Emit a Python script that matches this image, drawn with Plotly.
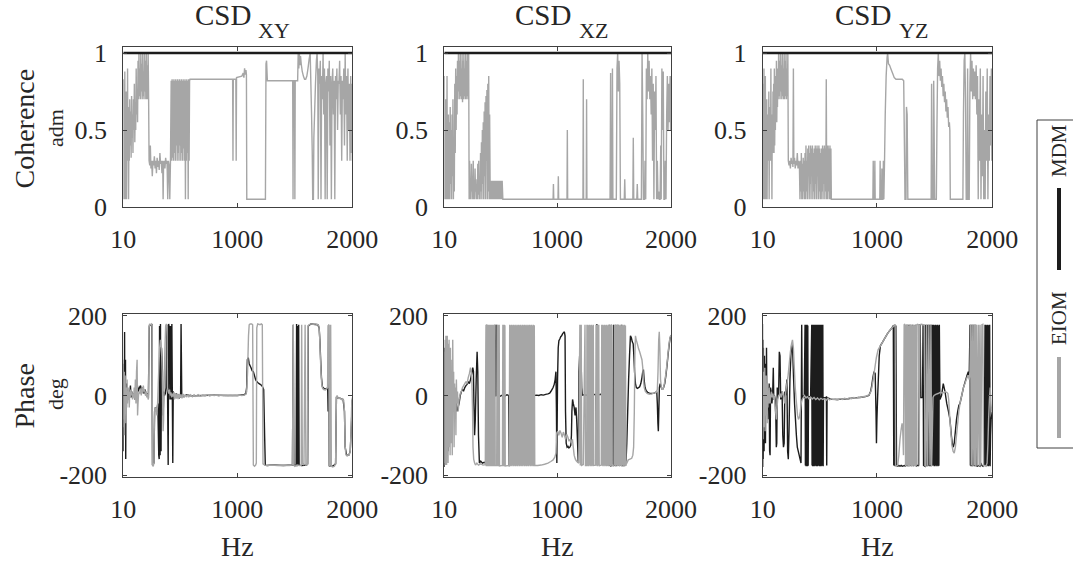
import plotly.graph_objects as go

W, H = 1073, 566
FONT = "Liberation Serif"
TXT = "#262626"
AXC = "#404040"
GRAY = "#a6a6a6"
BLACK = "#1c1c1c"

# ---------------- data ----------------
pair_names = ["XY", "XZ", "YZ"]
x_ticks = [10, 1000, 2000]
coh_ticks = [0, 0.5, 1]
coh_tick_text = ["0", "0.5", "1"]
ph_ticks = [-200, 0, 200]
ph_tick_text = ["-200", "0", "200"]
legend_labels = ["MDM", "EIOM"]

# MDM coherence (constant ~1 over the band)
mdm_coh_hz = [10, 2000]
mdm_coh = [1.0, 1.0]

# EIOM coherence, [Hz, coherence]
xy_coh_eiom = [
    [10,0.83],[12,0.3],[14,0.05],[17,0.7],[20,0.4],[23,0.88],[26,0.05],[29,0.6],[32,0.3],[35,0.75],[38,0.05],
    [41,0.55],[44,0.35],[47,0.9],[50,0.3],[53,0.65],[56,0.05],[59,0.5],[62,0.3],[66,0.7],[70,0.4],[74,0.62],
    [78,0.32],[82,0.72],[86,0.45],[90,0.6],[94,0.35],[98,0.7],[102,0.5],[106,0.8],[110,0.42],[114,0.68],
    [118,0.5],[122,0.9],[126,0.6],[130,0.75],[134,0.55],[138,0.95],[142,0.7],[146,1.0],[150,0.72],[154,0.9],
    [158,0.7],[162,1.0],[166,0.75],[170,0.93],[174,0.7],[178,1.0],[182,0.72],[186,0.88],[190,0.7],[194,1.0],
    [198,0.75],[202,0.95],[206,0.7],[210,1.0],[214,0.7],[218,0.92],[222,0.7],[226,1.0],[230,0.7],
    [234,0.3],[240,0.27],[245,0.4],[250,0.25],[256,0.3],[262,0.2],[268,0.3],[274,0.27],[280,0.33],[286,0.25],
    [292,0.3],[298,0.22],[304,0.32],[310,0.26],[316,0.3],[322,0.24],[328,0.35],[334,0.28],[340,0.3],[346,0.22],
    [352,0.3],[356,0.05],[360,0.28],[366,0.3],[372,0.25],[378,0.32],[384,0.28],[390,0.3],[396,0.05],[402,0.3],
    [408,0.27],[414,0.05],[420,0.3],
    [426,0.82],[430,0.3],[434,0.83],[438,0.32],[442,0.82],[446,0.3],[450,0.83],[454,0.35],[458,0.82],[462,0.3],
    [466,0.83],[470,0.4],[474,0.82],[478,0.3],[482,0.83],[486,0.35],[490,0.82],[494,0.3],[498,0.83],[502,0.4],
    [506,0.82],[510,0.3],[514,0.83],[518,0.35],[522,0.82],[526,0.3],[530,0.83],[534,0.38],[538,0.82],[542,0.3],
    [546,0.83],[550,0.05],[554,0.82],[558,0.3],[562,0.83],[566,0.35],[570,0.82],[574,0.05],[578,0.83],[582,0.3],
    [586,0.82],[590,0.83],[600,0.83],
    [960,0.83],[963,0.3],[966,0.83],[988,0.83],[991,0.3],[994,0.84],[1040,0.85],[1052,0.87],[1058,0.84],
    [1064,0.9],[1070,0.86],[1076,0.89],[1080,0.86],[1083,0.05],[1245,0.05],[1250,0.93],[1255,0.95],[1262,0.82],
    [1482,0.82],[1485,0.05],[1488,0.82],[1498,0.82],[1501,0.05],[1504,0.82],[1525,0.82],[1530,1.0],[1535,0.9],
    [1540,1.0],[1545,0.92],[1550,0.98],[1556,0.93],[1565,0.88],[1575,0.85],[1585,0.83],[1595,0.83],[1605,0.85],
    [1615,0.9],[1625,0.96],[1634,1.0],[1640,0.8],[1646,0.6],[1652,0.35],[1656,0.05],[1662,0.05],[1666,0.45],
    [1672,0.6],[1680,0.8],[1688,0.95],[1694,1.0],[1700,0.85],[1704,0.05],[1710,0.9],[1716,0.8],[1722,0.95],
    [1728,0.05],[1734,0.85],[1740,0.7],[1746,1.0],[1752,0.6],[1758,0.9],[1764,0.05],[1770,0.8],[1776,0.85],
    [1782,0.05],[1788,0.9],[1794,0.75],[1800,0.95],[1806,0.4],[1812,0.85],[1818,0.05],[1824,0.8],[1830,0.9],
    [1836,0.6],[1842,0.82],[1848,0.05],[1854,0.85],[1860,0.7],[1866,0.9],[1872,0.5],[1878,0.82],[1884,0.8],
    [1890,0.95],[1896,0.6],[1902,0.85],[1908,0.3],[1914,0.82],[1920,0.7],[1926,0.9],[1932,0.4],[1938,1.0],
    [1944,0.6],[1950,0.85],[1956,0.3],[1962,0.9],[1968,0.5],[1974,0.8],[1980,0.3],[1986,0.85],[1992,0.35],
    [1996,0.8],[2000,0.3],
]

xz_coh_eiom = [
    [10,0.85],[13,0.05],[16,0.5],[19,0.1],[22,0.7],[25,0.05],[28,0.55],[31,0.2],[34,0.85],[37,0.05],[40,0.4],
    [43,0.1],[46,0.6],[49,0.05],[52,0.3],[55,0.55],[58,0.05],[62,0.65],[66,0.15],[70,0.5],[74,0.05],[78,0.6],
    [82,0.2],[86,0.7],[90,0.05],[94,0.45],[98,0.1],[102,0.8],[106,0.35],[110,0.9],[114,0.5],[118,0.85],
    [122,0.6],[126,0.95],
    [130,0.7],[134,1.0],[138,0.75],[142,0.95],[146,0.7],[150,1.0],[154,0.72],[158,0.9],[162,0.7],[166,1.0],
    [170,0.68],[174,0.95],[178,0.7],[182,1.0],[186,0.72],[190,0.9],[194,0.7],[198,1.0],[202,0.7],[206,0.95],
    [210,0.72],[214,1.0],[218,0.7],[224,1.0],[228,0.05],
    [232,0.3],[236,0.05],[240,0.15],[244,0.05],[248,0.28],[252,0.1],[256,0.2],[260,0.05],[264,0.3],[268,0.05],
    [272,0.15],[276,0.05],[280,0.25],[284,0.1],[288,0.18],[292,0.05],[296,0.15],[300,0.05],[304,0.28],[308,0.08],
    [312,0.3],[316,0.05],[320,0.2],[324,0.05],[328,0.35],[332,0.1],[336,0.42],[340,0.05],[344,0.5],[348,0.15],
    [352,0.55],[356,0.05],[360,0.62],[364,0.2],[368,0.68],[372,0.05],[376,0.72],[380,0.3],[384,0.76],[388,0.05],
    [392,0.8],[396,0.1],[400,0.85],[404,0.05],[408,0.6],[412,0.17],
    [416,0.05],[422,0.17],[428,0.05],[434,0.17],[440,0.05],[446,0.17],[452,0.05],[458,0.17],[464,0.05],[470,0.17],
    [476,0.05],[482,0.17],[488,0.05],[494,0.17],[500,0.05],[506,0.17],[512,0.05],[518,0.17],[524,0.05],
    [965,0.05],[968,0.15],[971,0.05],[1008,0.05],[1011,0.2],[1014,0.05],[1087,0.05],[1090,0.5],[1093,0.05],
    [1227,0.05],[1230,0.83],[1233,0.05],[1256,0.05],[1259,0.7],[1262,0.05],
    [1465,0.05],[1470,0.87],[1474,0.05],[1482,0.05],[1486,0.9],[1490,0.05],[1520,0.05],[1526,0.9],[1532,1.0],
    [1538,0.75],[1544,0.95],[1550,0.8],[1556,0.05],[1590,0.05],[1594,0.18],[1598,0.05],
    [1665,0.05],[1669,0.45],[1673,0.05],[1700,0.05],[1704,0.15],[1708,0.05],
    [1740,0.05],[1746,1.0],[1752,0.6],[1758,0.05],[1768,0.05],[1772,0.3],[1778,0.05],[1784,0.9],[1790,0.7],
    [1796,1.0],[1802,0.75],[1808,0.95],[1814,0.7],[1820,0.85],[1826,0.6],[1832,0.9],[1838,0.3],[1844,0.8],
    [1850,0.05],[1856,0.75],[1862,0.5],[1868,0.85],[1874,0.05],[1880,0.3],[1886,0.05],[1892,0.1],[1898,0.05],
    [1904,0.05],[1910,0.4],[1914,0.05],[1920,0.9],[1926,0.5],[1932,0.88],[1938,0.05],[1944,0.05],[1950,0.3],
    [1956,0.05],[1962,0.6],[1968,0.85],[1974,0.5],[1980,0.8],[1986,0.55],[1992,0.85],[1996,0.5],[2000,0.85],
]

yz_coh_eiom = [
    [10,0.8],[12,0.05],[15,0.75],[18,0.3],[21,0.9],[24,0.05],[27,0.6],[30,0.35],[33,0.85],[36,0.05],[39,0.55],
    [42,0.3],[45,0.7],[48,0.05],[51,0.5],[54,0.35],[57,0.6],[60,0.3],[63,0.75],[66,0.05],[69,0.5],[72,0.3],
    [75,0.65],[78,0.35],[81,0.9],[84,0.3],[87,0.55],[90,0.05],[93,0.6],[96,0.35],[99,0.75],[102,0.4],[105,0.8],
    [108,0.35],[111,0.9],[114,0.4],[117,0.75],[120,0.5],[123,0.85],[126,0.6],[129,0.95],[132,0.55],[135,0.8],
    [138,0.65],[141,0.9],[144,0.7],
    [148,1.0],[152,0.72],[156,0.95],[160,0.7],[164,1.0],[168,0.75],[172,0.92],[176,0.7],[180,1.0],[184,0.72],
    [188,0.9],[192,0.7],[196,1.0],[200,0.7],[204,0.95],[208,0.72],[212,1.0],[216,0.7],[220,0.9],[224,0.72],
    [228,1.0],[232,0.3],
    [238,0.27],[244,0.3],[250,0.25],[256,0.32],[262,0.28],[268,0.3],[272,0.26],[276,0.9],[280,0.28],[286,0.32],
    [292,0.25],[298,0.3],[304,0.27],[310,0.35],[316,0.25],[322,0.3],[328,0.28],[333,0.05],[337,0.3],[341,0.1],
    [345,0.35],[349,0.05],[353,0.28],[357,0.05],[361,0.32],[365,0.1],[369,0.3],[373,0.05],[377,0.35],[381,0.05],
    [385,0.4],[389,0.1],[393,0.3],[397,0.05],[401,0.38],[405,0.2],[409,0.4],[413,0.05],[417,0.35],[421,0.15],
    [425,0.4],[429,0.05],[433,0.38],[437,0.2],[441,0.4],[445,0.05],[449,0.35],[453,0.1],[457,0.38],[461,0.05],
    [465,0.4],[469,0.15],[473,0.38],[477,0.05],[481,0.4],[485,0.2],[489,0.38],[493,0.05],[497,0.4],[501,0.1],
    [505,0.38],[509,0.05],[513,0.35],[517,0.05],[521,0.38],[525,0.1],[529,0.4],[533,0.05],[537,0.38],[541,0.15],
    [545,0.4],[549,0.05],[553,0.38],[557,0.1],[561,0.83],[565,0.05],[569,0.4],[573,0.05],[577,0.4],[581,0.1],
    [585,0.38],[589,0.05],[593,0.4],[597,0.05],[601,0.38],[605,0.05],[609,0.05],
    [965,0.05],[968,0.3],[971,0.05],[979,0.05],[982,0.3],[985,0.05],[1025,0.05],[1028,0.3],[1031,0.05],
    [1040,0.05],[1043,0.25],[1046,0.05],[1052,0.05],[1056,0.3],[1060,0.05],[1066,0.3],[1072,0.6],[1080,0.85],
    [1088,0.97],[1093,1.0],[1100,0.93],[1110,0.92],[1120,0.9],[1130,0.88],[1140,0.86],[1150,0.84],[1165,0.83],
    [1180,0.83],[1200,0.83],[1220,0.83],[1232,0.82],[1240,0.3],[1243,0.05],[1252,0.05],[1256,0.65],[1262,0.6],
    [1268,0.05],
    [1470,0.05],[1474,0.8],[1478,0.05],[1488,0.05],[1492,0.82],[1496,0.5],[1500,0.05],[1515,0.05],[1520,0.5],
    [1526,0.9],[1532,1.0],[1538,0.85],[1544,0.95],[1550,0.82],[1556,0.9],[1562,0.78],[1568,0.85],[1574,0.72],
    [1580,0.8],[1586,0.68],[1592,0.75],[1598,0.62],[1604,0.7],[1610,0.58],[1616,0.65],[1622,0.52],[1628,0.55],
    [1632,0.5],[1636,0.05],[1648,0.05],
    [1745,0.05],[1750,0.6],[1756,0.95],[1762,1.0],[1768,0.7],[1774,0.05],[1782,0.05],[1786,0.9],[1792,0.05],
    [1800,0.05],[1806,0.8],[1812,1.0],[1818,0.75],[1824,0.95],[1830,0.7],[1836,0.9],[1842,0.72],[1848,0.88],
    [1854,0.7],[1860,0.92],[1866,0.6],[1872,0.85],[1878,0.05],[1884,0.7],[1890,0.3],[1896,0.9],[1902,0.05],
    [1908,0.6],[1914,0.2],[1920,0.85],[1926,0.05],[1932,0.5],[1938,0.05],[1944,0.75],[1950,0.3],[1956,0.9],
    [1962,0.05],[1968,0.6],[1974,0.3],[1980,0.85],[1986,0.4],[1992,0.9],[1996,0.3],[2000,0.6],
]

# Phase, [Hz, deg]
xy_ph_mdm = [
    [10,-140],[11,80],[13,-60],[15,50],[17,-30],[19,10],[21,160],[23,-20],[25,30],[27,-10],[29,90],[31,-160],
    [33,20],[36,-10],[39,30],[42,0],[46,15],[50,-5],[55,10],[60,-10],[66,5],[72,25],[78,-5],[84,10],[90,0],
    [100,5],[110,-10],[120,20],[130,30],[140,10],[150,20],[160,25],[170,10],[180,20],[190,5],[200,15],[210,0],
    [220,5],[228,0],[236,175],[258,178],[264,-175],[276,-170],[282,-40],[290,-30],[300,-40],[310,-20],
    [318,-150],[322,-160],[325,175],[330,-150],[333,180],[338,-140],[342,120],[350,60],[356,-50],[362,10],
    [368,0],[375,5],[382,20],[388,178],[394,20],[400,-175],[404,180],[410,170],[416,-10],[420,175],[425,-10],
    [432,180],[440,-170],[444,10],[452,0],[460,-5],[470,5],[480,-3],[490,2],[500,-5],[508,-2],[512,180],
    [518,0],[530,-3],[560,2],[600,-1],[700,0],[800,1],[900,0],[1000,0],[1060,2],[1075,5],[1082,20],[1088,90],
    [1096,95],[1104,80],[1112,75],[1120,70],[1130,62],[1140,60],[1150,50],[1160,40],[1170,35],[1180,32],
    [1190,30],[1200,28],[1210,26],[1220,22],[1230,15],[1238,-100],[1244,-175],[1260,-176],[1300,-175],
    [1400,-176],[1480,-175],[1487,178],[1492,-175],[1512,-176],[1516,180],[1520,-178],[1524,175],[1528,-176],
    [1534,178],[1538,-175],[1560,-176],[1600,-175],[1612,-172],[1618,175],[1640,180],[1700,178],[1712,170],
    [1718,140],[1725,90],[1732,45],[1740,22],[1760,16],[1780,18],[1786,20],[1790,-40],[1794,178],[1800,-178],
    [1810,-176],[1830,-178],[1855,-172],[1862,-5],[1880,-6],[1900,-8],[1920,-10],[1932,-40],[1938,-130],
    [1950,-150],[1970,-150],[1982,-140],[1990,-90],[2000,-10],
]

xy_ph_eiom = [
    [10,90],[12,-60],[14,40],[16,-80],[18,60],[20,-100],[22,30],[24,-40],[26,50],[28,-20],[31,20],[34,-70],
    [37,10],[40,-30],[43,40],[46,-20],[50,10],[54,-10],[58,20],[62,-30],[66,10],[70,-5],[75,15],[80,0],[85,10],
    [90,-10],[95,5],[100,-5],[105,20],[110,-10],[115,40],[120,-20],[125,60],[130,90],[134,-50],[138,-20],
    [142,0],[148,10],[154,5],[160,15],[166,0],[172,20],[178,5],[184,25],[190,10],[196,15],[202,0],[208,10],
    [214,-5],[220,5],[226,-10],[230,-5],[234,170],[238,180],[246,178],[254,180],[260,175],[263,-175],[270,-178],
    [276,-170],[280,-60],[284,-30],[290,-40],[296,-30],[302,-50],[308,-20],[314,30],[320,80],[326,120],
    [332,140],[338,130],[344,100],[348,60],[352,-20],[356,-90],[360,-60],[366,40],[372,120],[378,175],
    [384,180],[390,175],[394,20],[400,10],[406,5],[412,15],[418,0],[424,8],[430,-5],[436,5],[442,-3],[448,8],
    [455,-10],[462,6],[470,-8],[478,5],[486,-9],[494,4],[502,-6],[510,3],[520,-7],[530,4],[540,-5],[550,3],
    [560,-4],[570,2],[580,-3],[595,2],[610,-3],[625,2],[640,-2],[660,2],[680,-2],[700,1],[720,-1],[740,2],
    [760,-1],[780,1],[800,0],[820,1],[840,-1],[860,1],[880,0],[900,1],[920,0],[940,1],[960,0],[980,1],
    [1000,0],[1020,1],[1040,0],[1060,1],[1075,3],[1082,10],[1090,60],[1098,150],[1104,178],[1112,180],
    [1126,180],[1134,178],[1140,-175],[1150,-178],[1160,-175],[1166,-170],[1170,170],[1178,180],[1198,178],
    [1210,180],[1218,178],[1224,-172],[1240,-175],[1260,-176],[1300,-175],[1350,-176],[1400,-175],[1450,-176],
    [1480,-175],[1487,178],[1490,-175],[1500,-178],[1520,-175],[1540,-176],[1556,-175],[1560,178],[1566,-170],
    [1580,-175],[1590,178],[1597,-175],[1610,-174],[1616,175],[1625,178],[1640,180],[1660,179],[1680,180],
    [1700,178],[1710,175],[1716,150],[1722,100],[1728,60],[1734,30],[1742,18],[1752,15],[1765,14],[1775,16],
    [1785,20],[1790,175],[1796,178],[1800,-178],[1806,-175],[1812,178],[1818,-178],[1830,-180],[1845,-178],
    [1855,-170],[1862,-5],[1868,0],[1875,-5],[1885,-8],[1895,-6],[1905,-10],[1915,-8],[1925,-12],[1932,-40],
    [1938,-130],[1944,-148],[1955,-152],[1965,-150],[1975,-148],[1982,-140],[1988,-100],[1994,-30],[2000,-5],
]

xz_ph_mdm = [
    [10,-180],[12,120],[14,-160],[17,100],[20,-120],[23,60],[26,-150],[30,80],[34,-100],[38,50],[42,-140],
    [46,30],[50,-60],[55,40],[60,-90],[66,20],[72,-50],[80,10],[88,-40],[96,0],[104,-20],[112,-10],[120,-40],
    [130,-30],[140,-20],[150,0],[160,10],[170,15],[180,12],[190,20],[200,25],[210,28],[220,35],[230,30],
    [240,40],[250,55],[260,70],[266,60],[270,-20],[276,-100],[282,-60],[290,40],[298,110],[304,60],[310,-100],
    [318,-170],[330,-165],[345,-170],[360,-168],[375,-170],[382,178],[388,-170],[398,-160],[410,-10],[420,0],
    [430,-3],[440,2],[450,0],[455,178],[458,0],[465,-2],[469,178],[472,0],[480,2],[500,-2],[520,1],[540,-2],
    [560,2],[575,0],[580,-178],[584,0],[600,2],[620,-1],[640,1],[660,-2],[680,1],[700,-1],[720,2],[740,0],
    [760,1],[780,-1],[800,0],[820,1],[840,0],[860,2],[880,1],[900,3],[920,4],[935,6],[945,10],[955,15],
    [965,20],[975,28],[983,40],[990,60],[994,-30],[998,-170],[1004,40],[1010,120],[1016,138],[1024,142],
    [1032,148],[1040,150],[1048,155],[1056,158],[1064,160],[1070,150],[1074,-40],[1080,-120],[1088,-130],
    [1096,-128],[1104,-132],[1112,-130],[1120,-125],[1126,-100],[1130,-40],[1136,-10],[1142,-20],[1150,-30],
    [1158,-50],[1166,-30],[1172,-60],[1180,-120],[1186,-170],[1192,60],[1198,100],[1204,110],[1210,100],
    [1216,20],[1222,0],[1232,2],[1260,1],[1290,3],[1320,2],[1340,3],[1345,-175],[1349,180],[1352,2],[1360,1],
    [1380,3],[1400,2],[1420,3],[1430,2],[1436,-170],[1442,-175],[1450,-170],[1458,178],[1462,-175],[1472,-178],
    [1476,178],[1480,-176],[1492,-175],[1496,178],[1500,-176],[1512,-175],[1516,178],[1520,-176],[1530,-175],
    [1534,178],[1538,-175],[1550,-176],[1560,-174],[1566,178],[1570,-176],[1590,-176],[1600,-172],[1606,-160],
    [1612,-120],[1620,-40],[1628,40],[1636,100],[1644,150],[1652,145],[1660,135],[1668,130],[1674,100],
    [1680,60],[1688,30],[1696,20],[1705,18],[1715,20],[1725,22],[1735,30],[1745,45],[1752,60],[1758,65],
    [1764,40],[1772,20],[1782,12],[1795,8],[1810,6],[1830,5],[1850,6],[1865,8],[1875,10],[1880,-20],[1885,-70],
    [1889,-90],[1893,-40],[1898,20],[1905,30],[1915,20],[1925,15],[1935,20],[1945,30],[1955,50],[1965,75],
    [1975,105],[1985,130],[1993,145],[2000,150],
]

xz_ph_eiom = [
    [10,-170],[12,110],[14,-150],[16,140],[18,-175],[20,90],[22,-160],[24,150],[26,-120],[28,120],[30,-175],
    [32,60],[34,-140],[36,150],[38,-100],[40,130],[43,-170],[46,100],[49,-130],[52,140],[55,-80],[58,80],
    [61,-150],[64,120],[67,-60],[70,90],[73,-120],[76,50],[80,-150],[84,140],[88,-40],[92,60],[96,-130],
    [100,30],[104,-60],[108,20],[112,-100],[116,40],[120,-20],[126,10],[132,-40],[140,-10],[150,5],[160,10],
    [170,20],[180,25],[190,30],[200,35],[210,30],[220,45],[230,55],[240,70],[246,60],[252,40],[258,-40],
    [262,-130],[268,-160],[276,-170],[284,-175],[296,-170],[310,-175],[330,-172],[350,-175],[370,-174],
    [376,178],[379,-178],[382,177],[385,-177],[388,178],[391,-178],[394,178],[397,-176],[400,178],[403,-178],
    [406,177],[409,-178],[412,178],[415,-177],[418,178],[421,-178],[424,177],[427,-178],[430,178],[433,-177],
    [436,178],[439,-178],[442,177],[445,-178],[448,178],[451,-177],[454,178],[457,-176],[470,-176],
    [474,178],[477,-177],[480,178],[483,-178],[486,177],[489,-178],[492,178],[495,-177],[520,-176],
    [524,178],[527,-178],[530,177],[533,-177],[536,178],[539,-178],[542,177],[545,-177],[580,-176],
    [584,178],[588,-178],[592,177],[596,-177],[600,178],[604,-178],[608,177],[612,-176],[616,178],[620,-178],
    [624,177],[628,-177],[632,178],[636,-178],[640,176],[644,-177],[648,178],[652,-178],[656,177],[660,-176],
    [664,178],[668,-178],[672,177],[676,-177],[680,178],[684,-178],[688,176],[692,-177],[696,178],[700,-178],
    [704,177],[708,-176],[712,178],[716,-178],[720,177],[724,-177],[728,178],[732,-178],[736,176],[740,-177],
    [744,178],[748,-178],[752,177],[756,-176],[760,178],[764,-178],[768,177],[772,-177],[776,178],[780,-178],
    [784,176],[788,-177],[792,178],[796,-178],[800,177],[804,-176],
    [806,-176],[830,-176],[860,-175],[890,-173],[920,-170],[945,-166],[965,-162],[980,-155],[990,-145],
    [996,-95],[1005,-90],[1015,-100],[1025,-88],[1035,-95],[1045,-105],[1055,-92],[1065,-100],[1075,-110],
    [1085,-98],[1095,-105],[1105,-115],[1115,-110],[1125,-120],[1135,-110],[1142,-130],[1150,-150],
    [1160,-160],[1170,-165],[1180,-168],[1190,-170],[1200,178],[1204,-176],[1212,178],[1216,-176],[1230,-174],
    [1245,178],[1249,-176],[1260,-176],
    [1262,178],[1266,-177],[1270,178],[1274,-178],[1278,177],[1282,-176],[1286,178],[1290,-178],[1294,177],
    [1298,-177],[1302,178],[1306,-178],[1310,176],[1314,-177],[1318,178],[1322,-176],[1338,-175],
    [1342,178],[1346,-177],[1350,178],[1354,-178],[1358,177],[1362,-176],[1366,178],[1370,-178],[1374,-176],
    [1388,-175],
    [1392,178],[1396,-177],[1400,178],[1404,-178],[1408,177],[1412,-176],[1416,178],[1420,-178],[1424,177],
    [1428,-177],[1432,178],[1436,-178],[1440,176],[1444,-177],[1448,178],[1452,-178],[1456,177],[1460,-176],
    [1464,178],[1468,-178],[1472,177],[1476,-177],[1480,178],[1484,-178],[1488,-176],[1500,-175],
    [1504,178],[1508,-177],[1512,178],[1516,-178],[1520,177],[1524,-176],[1528,178],[1532,-178],[1536,177],
    [1540,-177],[1544,178],[1548,-178],[1552,176],[1556,-177],[1560,178],[1564,-178],[1568,177],[1572,-176],
    [1576,178],[1580,-178],[1584,177],[1588,-177],[1592,178],[1596,-178],[1600,176],[1604,-177],[1608,-172],
    [1612,-170],[1625,-162],[1640,-160],[1655,-158],[1665,-150],[1672,-130],[1678,-40],[1683,100],[1688,150],
    [1695,140],[1705,130],[1715,118],[1725,110],[1735,100],[1745,90],[1752,70],[1758,40],[1765,20],[1775,10],
    [1790,5],[1810,3],[1830,4],[1850,6],[1870,8],[1880,15],[1886,60],[1892,140],[1897,160],[1902,120],
    [1908,40],[1915,20],[1925,15],[1935,20],[1945,35],[1955,55],[1965,80],[1975,110],[1985,135],[1993,148],
    [2000,152],
]

yz_ph_mdm = [
    [10,-180],[12,140],[14,-160],[16,120],[18,-100],[20,60],[22,-140],[25,100],[28,-60],[31,40],[34,-120],
    [37,80],[40,-30],[43,120],[46,-20],[50,10],[54,-60],[58,20],[62,-10],[66,30],[70,-140],[74,-150],[78,20],
    [84,10],[90,-20],[96,0],[102,70],[106,-10],[112,0],[118,-10],[124,-60],[128,-130],[132,-120],[136,20],
    [142,10],[148,0],[154,110],[160,100],[166,-10],[172,0],[178,10],[184,-100],[190,-130],[196,-120],[202,10],
    [208,0],[214,20],[220,40],[226,-140],[232,-160],[238,-90],[246,40],[254,100],[262,130],[270,110],[278,40],
    [286,-20],[294,-60],[302,-100],[310,-130],[318,-140],[326,-150],[334,-160],[342,-170],[348,178],[352,-10],
    [360,0],[370,-5],[377,178],[380,-176],[383,178],[386,-178],[389,177],[392,-176],[395,178],[398,-178],
    [401,176],[404,-177],[407,-5],[415,-3],[425,-6],[435,178],[438,-176],[441,178],[444,-178],[447,177],
    [450,-176],[453,178],[456,-178],[459,176],[462,-177],[465,178],[468,-176],[471,178],[474,-178],[477,177],
    [480,-176],[483,178],[486,-178],[489,176],[492,-177],[495,178],[498,-176],[501,178],[504,-178],[507,177],
    [510,-176],[513,178],[516,-178],[519,176],[522,-177],[525,178],[528,-176],[531,178],[534,-178],[537,-5],
    [550,-6],[562,-4],[565,-176],[568,-5],[580,-7],[600,-9],[650,-10],[700,-9],[750,-8],[800,-6],[850,-5],
    [900,-3],[930,0],[945,10],[955,25],[965,45],[975,60],[985,55],[992,-40],[996,-120],[1000,-60],[1006,-5],
    [1012,40],[1020,100],[1030,125],[1050,135],[1070,145],[1090,155],[1110,163],[1130,170],[1142,176],
    [1146,-176],[1152,178],[1158,-178],[1164,176],[1170,-177],[1180,-178],[1190,-176],[1200,-178],[1210,-176],
    [1220,-178],[1230,-177],[1240,-176],[1250,-178],[1258,178],[1261,-176],[1264,178],[1267,-178],[1270,177],
    [1273,-176],[1276,178],[1279,-178],[1282,176],[1285,-177],[1288,178],[1291,-176],[1294,178],[1297,-178],
    [1300,177],[1304,-176],[1310,178],[1316,-178],[1322,177],[1328,-176],[1334,178],[1340,-178],[1346,-176],
    [1360,-176],[1362,178],[1375,178],[1380,-5],[1395,-5],[1400,178],[1404,-176],[1416,-178],[1419,178],
    [1422,-176],[1425,178],[1428,-178],[1431,177],[1434,-176],[1437,178],[1440,-178],[1443,176],[1446,-177],
    [1449,178],[1452,-176],[1455,178],[1458,-178],[1461,177],[1464,-176],[1467,178],[1470,-178],[1473,176],
    [1476,-177],[1479,178],[1482,-176],[1485,178],[1489,-176],[1493,178],[1497,-178],[1501,177],[1505,-176],
    [1509,178],[1513,-178],[1517,177],[1521,-176],[1525,178],[1529,-178],[1533,176],[1537,-177],[1541,178],
    [1546,-10],[1560,0],[1575,30],[1590,10],[1605,-20],[1620,-40],[1633,-60],[1645,-100],[1655,-125],
    [1662,-130],[1670,-120],[1680,-90],[1690,-60],[1700,-40],[1710,-25],[1720,-20],[1735,0],[1750,20],
    [1765,35],[1780,50],[1792,60],[1800,50],[1807,178],[1810,-176],[1813,178],[1816,-178],[1819,177],
    [1822,-176],[1825,178],[1828,-178],[1831,176],[1834,-177],[1837,178],[1840,-176],[1843,178],[1846,-178],
    [1849,177],[1852,-176],[1855,178],[1858,-178],[1861,176],[1864,-177],[1870,-178],[1880,-176],[1893,-178],
    [1900,-170],[1910,-176],[1920,-178],[1930,-175],[1937,178],[1941,-176],[1945,178],[1949,-178],[1953,177],
    [1957,-176],[1961,178],[1965,-178],[1969,177],[1973,-176],[1977,178],[1981,-178],[1985,-100],[1990,-60],
    [1995,-50],[2000,-40],
]

yz_ph_eiom = [
    [10,180],[13,-110],[16,60],[19,-80],[22,40],[25,-60],[28,70],[31,-90],[34,30],[37,-50],[40,50],[43,-40],
    [46,20],[49,-70],[52,30],[55,-30],[58,10],[62,-20],[66,20],[70,-10],[74,-20],[80,0],[86,10],[92,-5],
    [98,5],[104,-10],[110,0],[116,-20],[122,-40],[128,-60],[134,-30],[140,-10],[150,0],[160,5],[170,-5],
    [180,10],[190,0],[200,-20],[210,10],[220,30],[230,50],[240,80],[250,110],[260,130],[268,140],[276,120],
    [284,70],[292,20],[300,-10],[306,-30],[312,-50],[320,-60],[328,-55],[336,-40],[344,-20],[352,-10],
    [362,-5],[372,0],[385,-6],[397,-3],[410,-8],[425,-4],[440,-9],[455,-5],[470,-10],[485,-6],[500,-11],
    [515,-7],[530,-10],[545,-8],[560,-12],[575,-7],[590,-11],[605,-8],[620,-10],[640,-9],[660,-11],[680,-8],
    [700,-10],[720,-7],[740,-9],[760,-6],[780,-8],[800,-5],[820,-7],[840,-4],[860,-5],[880,-3],[900,-2],
    [920,0],[935,3],[945,8],[955,18],[965,35],[975,55],[985,75],[995,95],[1010,115],[1030,125],[1050,135],
    [1070,145],[1090,155],[1110,163],[1130,170],[1150,176],[1158,179],[1162,-175],[1170,-178],[1180,-176],
    [1190,-150],[1200,-110],[1210,-85],[1218,-70],[1224,-90],[1230,-150],[1236,178],[1242,180],[1248,-178],
    [1254,178],[1258,-176],[1264,178],[1270,-178],[1276,177],[1282,-178],[1288,178],[1294,-177],[1298,178],
    [1302,-178],[1306,177],[1310,-178],[1314,178],[1318,-177],[1322,178],[1326,-178],[1330,177],[1334,-178],
    [1338,178],[1342,-177],[1346,178],[1352,179],[1360,178],[1366,-176],[1372,178],[1385,179],[1400,178],
    [1412,177],[1416,-176],[1425,-178],[1431,178],[1440,-177],[1450,178],[1460,-176],[1468,178],[1474,-178],
    [1480,-100],[1486,-5],[1495,0],[1510,3],[1530,5],[1550,8],[1570,6],[1590,10],[1605,8],[1615,5],[1622,-10],
    [1630,-50],[1640,-90],[1650,-125],[1660,-140],[1670,-145],[1680,-130],[1690,-100],[1700,-70],[1710,-40],
    [1720,-20],[1735,0],[1750,20],[1763,30],[1775,40],[1785,48],[1792,50],[1800,40],[1806,60],[1812,178],
    [1818,-176],[1826,178],[1832,-178],[1840,178],[1846,-176],[1852,178],[1858,-178],[1864,178],[1872,-176],
    [1880,178],[1888,-178],[1894,178],[1900,-176],[1910,178],[1918,179],[1924,-178],[1935,-176],[1945,-178],
    [1955,-170],[1962,-120],[1968,-60],[1975,-10],[1982,20],[1988,-20],[1994,-40],[2000,-30],
]

coh_eiom = [xy_coh_eiom, xz_coh_eiom, yz_coh_eiom]
ph_mdm = [xy_ph_mdm, xz_ph_mdm, yz_ph_mdm]
ph_eiom = [xy_ph_eiom, xz_ph_eiom, yz_ph_eiom]

# ---------------- layout geometry (pixels) ----------------
COLS = [(123.3, 352.3), (444.3, 671.0), (762.7, 992.3)]
ROWS = [(47.0, 207.0), (314.0, 477.0)]


def px_x(p):
    return p / W


def px_y(p):
    return 1 - p / H


def split(pairs):
    return [a for a, _ in pairs], [b for _, b in pairs]


fig = go.Figure()

for c in range(3):
    # top row: coherence
    ax = c + 1
    hz, val = split(coh_eiom[c])
    fig.add_trace(go.Scatter(x=hz, y=val, mode="lines", name="EIOM",
                             line=dict(color=GRAY, width=1.4, simplify=False),
                             xaxis=f"x{ax}", yaxis=f"y{ax}", hoverinfo="skip"))
    fig.add_trace(go.Scatter(x=mdm_coh_hz, y=mdm_coh, mode="lines", name="MDM",
                             line=dict(color=BLACK, width=2.6),
                             xaxis=f"x{ax}", yaxis=f"y{ax}", hoverinfo="skip"))
    # bottom row: phase
    ax = c + 4
    hz, val = split(ph_mdm[c])
    fig.add_trace(go.Scatter(x=hz, y=val, mode="lines", name="MDM",
                             line=dict(color=BLACK, width=1.4, simplify=False),
                             xaxis=f"x{ax}", yaxis=f"y{ax}", hoverinfo="skip"))
    hz, val = split(ph_eiom[c])
    fig.add_trace(go.Scatter(x=hz, y=val, mode="lines", name="EIOM",
                             line=dict(color=GRAY, width=1.4, simplify=False),
                             xaxis=f"x{ax}", yaxis=f"y{ax}", hoverinfo="skip"))

tickfont = dict(family=FONT, size=26, color=TXT)
layout = dict(
    width=W, height=H, autosize=False,
    margin=dict(l=0, r=0, t=0, b=0, pad=0, autoexpand=False),
    paper_bgcolor="white", plot_bgcolor="white", showlegend=False,
    font=dict(family=FONT, color=TXT),
)
for r in range(2):
    for c in range(3):
        k = r * 3 + c + 1
        xa = dict(domain=[px_x(COLS[c][0]), px_x(COLS[c][1])], anchor=f"y{k}",
                  range=[10, 2000], tickvals=x_ticks, ticktext=[str(v) for v in x_ticks],
                  ticks="inside", ticklen=4, tickcolor=AXC, showline=True, linecolor=AXC,
                  linewidth=1, mirror="ticks", showgrid=False, zeroline=False,
                  tickfont=tickfont, ticklabelstandoff=9, automargin=False)
        if r == 0:
            yr, yt, ytt = [0, 1.039], coh_ticks, coh_tick_text
        else:
            yr, yt, ytt = [-205, 205], ph_ticks, ph_tick_text
        ya = dict(domain=[px_y(ROWS[r][1]), px_y(ROWS[r][0])], anchor=f"x{k}",
                  range=yr, tickvals=yt, ticktext=ytt,
                  ticks="inside", ticklen=4, tickcolor=AXC, showline=True, linecolor=AXC,
                  linewidth=1, mirror="ticks", showgrid=False, zeroline=False,
                  tickfont=tickfont, ticklabelstandoff=10, automargin=False)
        sfx = "" if k == 1 else str(k)
        layout["xaxis" + sfx] = xa
        layout["yaxis" + sfx] = ya

annotations = []


def ann(text, px, py, size, angle=0):
    annotations.append(dict(text=text, x=px_x(px), y=px_y(py), xref="paper", yref="paper",
                            xanchor="center", yanchor="middle", showarrow=False,
                            textangle=angle, font=dict(family=FONT, size=size, color=TXT)))


for c in range(3):
    cx = (COLS[c][0] + COLS[c][1]) / 2
    ann("CSD", cx - 15, 15, 29)
    ann(pair_names[c], cx + 36, 30, 22)
    ann("Hz", cx, 546, 28)

ann("Coherence", 23.5, 129, 28, -90)
ann("adm", 55, 128, 22, -90)
ann("Phase", 23.5, 396, 28, -90)
ann("deg", 55, 394, 22, -90)

# legend (rotated, drawn by hand)
ann(legend_labels[0], 1059, 151, 21, -90)
ann(legend_labels[1], 1059, 318, 21, -90)
layout["annotations"] = annotations
layout["shapes"] = [
    dict(type="rect", xref="paper", yref="paper", x0=px_x(1037), x1=px_x(1100),
         y0=px_y(448), y1=px_y(120), line=dict(color=AXC, width=1), fillcolor="rgba(0,0,0,0)"),
    dict(type="line", xref="paper", yref="paper", x0=px_x(1059), x1=px_x(1059),
         y0=px_y(270), y1=px_y(188), line=dict(color=BLACK, width=4)),
    dict(type="line", xref="paper", yref="paper", x0=px_x(1059), x1=px_x(1059),
         y0=px_y(438), y1=px_y(357), line=dict(color=GRAY, width=4)),
]

fig.update_layout(**layout)
fig.write_html("out.html")
